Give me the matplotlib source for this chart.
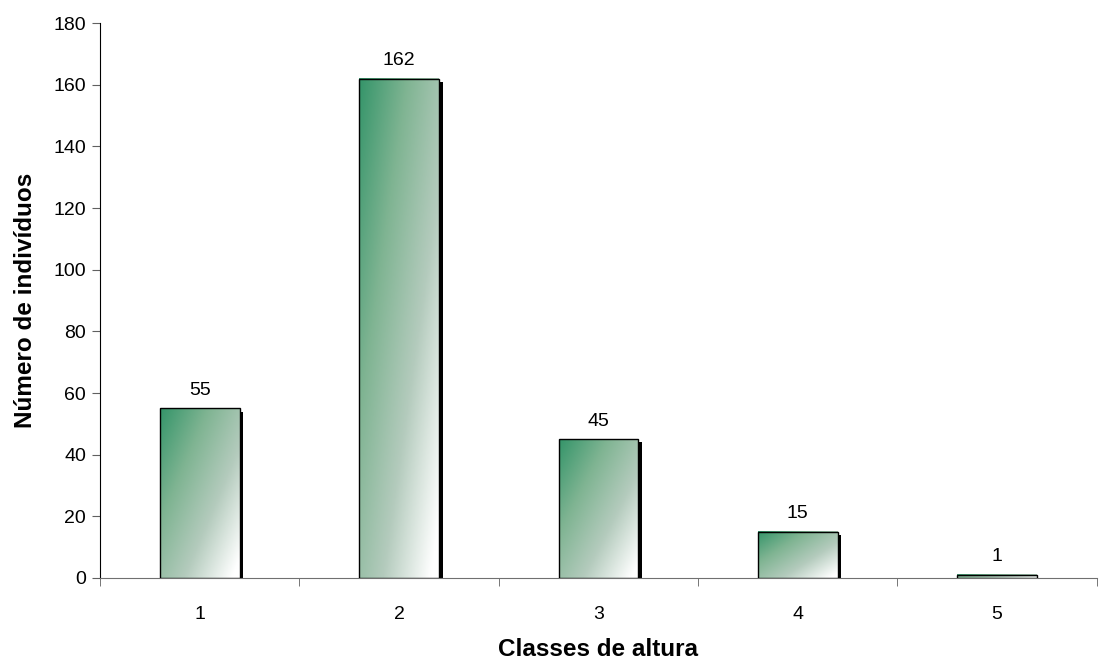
import numpy as np
import matplotlib.pyplot as plt
from matplotlib.colors import LinearSegmentedColormap
from matplotlib.patches import Rectangle

classes = [1, 2, 3, 4, 5]
counts = [55, 162, 45, 15, 1]
yticks = [0, 20, 40, 60, 80, 100, 120, 140, 160, 180]

plt.rcParams['font.family'] = ['Liberation Sans', 'DejaVu Sans']

green = LinearSegmentedColormap.from_list(
    'bar_grad', ['#35956a', '#7fb492', '#b4cbbd', '#ffffff'])


def gradient_bar(ax, x, h, width):
    # diagonal gradient: dark green top-left, white bottom-right
    u = np.linspace(0, 1, 60)[None, :]
    v = np.linspace(0, 1, 120)[:, None]
    t = np.clip(0.55 * u + 0.5 * v, 0, 1)
    x0 = x - width / 2
    # shadow
    ax.add_patch(Rectangle((x0 + 0.018, 0), width, max(h - 1.0, 0),
                           facecolor='black', edgecolor='none', zorder=2))
    ax.imshow(t, cmap=green, vmin=0, vmax=1, aspect='auto',
              extent=(x0, x0 + width, 0, h), origin='upper', zorder=3,
              interpolation='bilinear')
    ax.add_patch(Rectangle((x0, 0), width, h, facecolor='none',
                           edgecolor='black', linewidth=1.0, zorder=4))


fig = plt.figure(figsize=(10.99, 6.61), dpi=100)
ax = fig.add_axes([0.091, 0.1256, 0.907, 0.8394])

width = 0.4
for c, n in zip(classes, counts):
    gradient_bar(ax, c, n, width)
    ax.annotate(str(n), (c, n), xytext=(0, 7), textcoords='offset points',
                ha='center', va='bottom', fontsize=14)

ax.set_xlim(0.5, 5.5)
ax.set_ylim(0, 180)
ax.set_yticks(yticks)
ax.set_xticks(classes)
ax.set_xticks([0.5, 1.5, 2.5, 3.5, 4.5, 5.5], minor=True)
ax.tick_params(axis='x', which='major', length=0, pad=20, labelsize=14)
ax.tick_params(axis='x', which='minor', length=6, direction='out',
               color='#606060')
ax.tick_params(axis='y', length=6, direction='out', color='#606060',
               labelsize=14, pad=4)

for s in ['top', 'right']:
    ax.spines[s].set_visible(False)
ax.spines['left'].set_color('black')
ax.spines['bottom'].set_color('#707070')

ax.set_xlabel('Classes de altura', fontsize=17.5, fontweight='bold',
              labelpad=11)
ax.set_ylabel('Número de indivíduos', fontsize=17.5, fontweight='bold',
              labelpad=12)

plt.savefig('out.png', dpi=100)
